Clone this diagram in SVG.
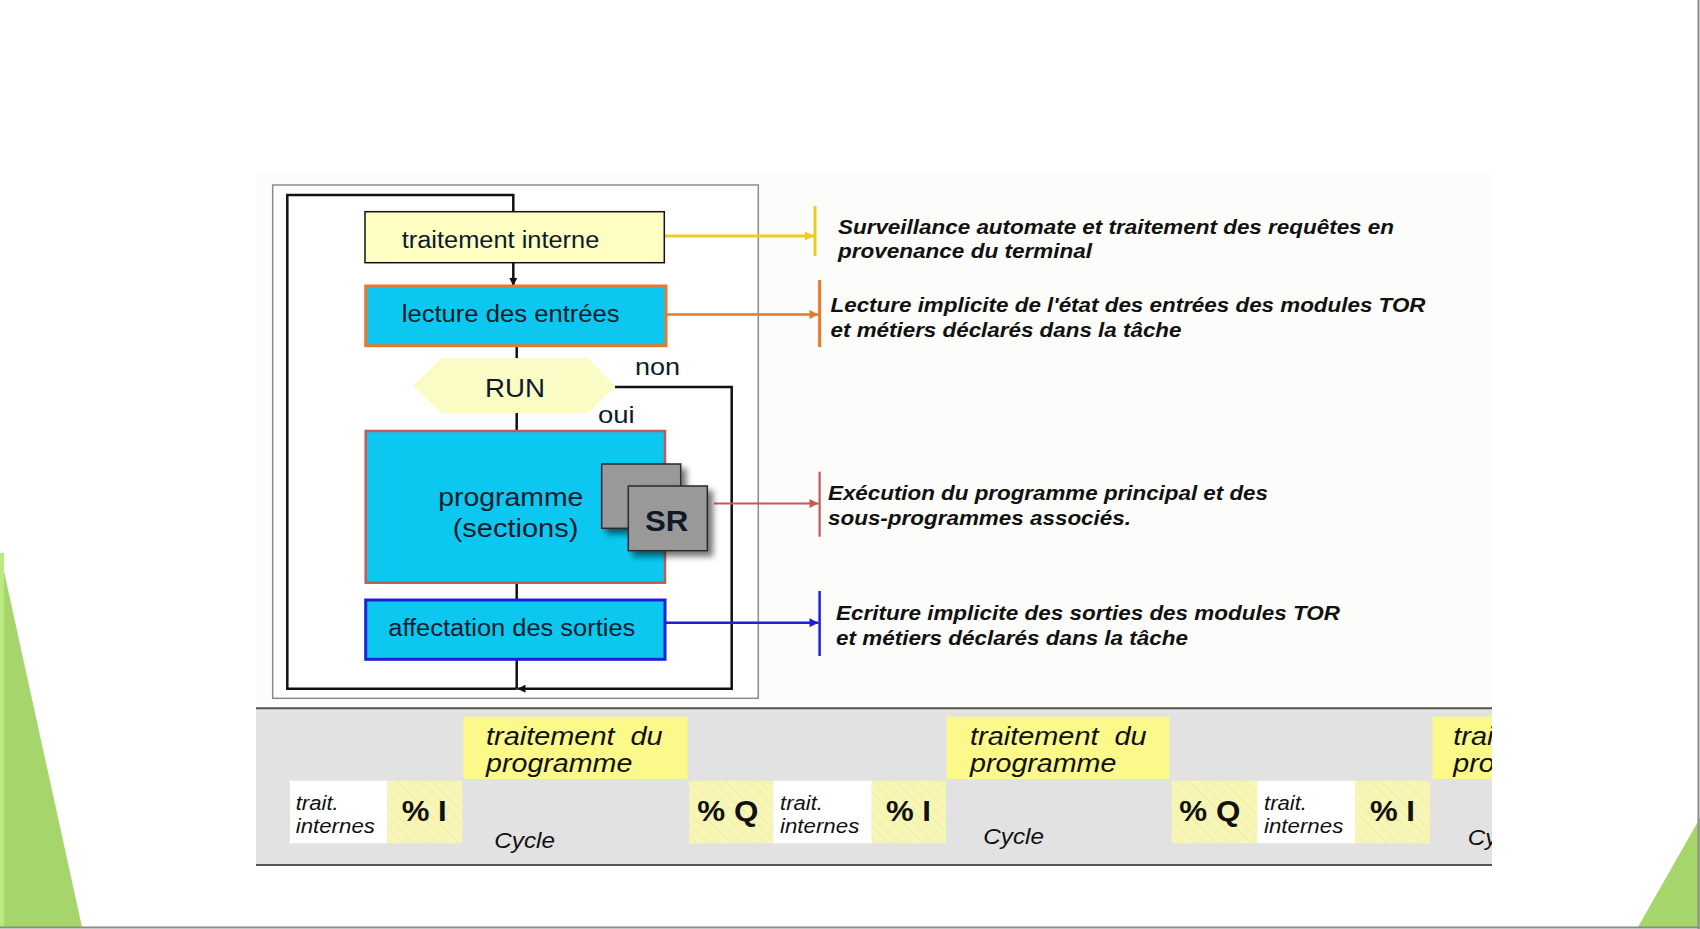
<svg xmlns="http://www.w3.org/2000/svg" width="1700" height="929" viewBox="0 0 1700 929">
<style>
.lbl{font-family:"Liberation Sans",Arial,sans-serif;fill:#0e1a2a;}
.note{font-family:"Liberation Sans",Arial,sans-serif;font-weight:bold;font-style:italic;font-size:21px;fill:#111;}
.it{font-family:"Liberation Sans",Arial,sans-serif;font-style:italic;fill:#111;}
.pct{font-family:"Liberation Sans",Arial,sans-serif;font-weight:bold;font-size:30px;fill:#111;}
.loop{fill:none;stroke:#111;stroke-width:2.5;}
.cyan{fill:#0cc8f0;}
</style>
<defs>
<marker id="mk" viewBox="0 0 10 10" refX="10" refY="5" markerWidth="9" markerHeight="8" markerUnits="userSpaceOnUse" orient="auto"><path d="M0,0 L10,5 L0,10 z" fill="#111"/></marker>
<marker id="my" viewBox="0 0 10 10" refX="10" refY="5" markerWidth="10" markerHeight="9" markerUnits="userSpaceOnUse" orient="auto"><path d="M0,0 L10,5 L0,10 z" fill="#eccd1c"/></marker>
<marker id="mo" viewBox="0 0 10 10" refX="10" refY="5" markerWidth="10" markerHeight="9" markerUnits="userSpaceOnUse" orient="auto"><path d="M0,0 L10,5 L0,10 z" fill="#e8782a"/></marker>
<marker id="mr" viewBox="0 0 10 10" refX="10" refY="5" markerWidth="10" markerHeight="9" markerUnits="userSpaceOnUse" orient="auto"><path d="M0,0 L10,5 L0,10 z" fill="#c45a55"/></marker>
<marker id="mb" viewBox="0 0 10 10" refX="10" refY="5" markerWidth="10" markerHeight="9" markerUnits="userSpaceOnUse" orient="auto"><path d="M0,0 L10,5 L0,10 z" fill="#1a22d8"/></marker>
<filter id="sh" x="-20%" y="-20%" width="150%" height="150%"><feDropShadow dx="5" dy="5" stdDeviation="3" flood-color="#000" flood-opacity="0.55"/></filter>
<pattern id="hatch" width="8" height="8" patternUnits="userSpaceOnUse" patternTransform="rotate(-45)"><rect width="8" height="8" fill="#f8f6b6"/><line x1="0" y1="0" x2="0" y2="8" stroke="#ecea9c" stroke-width="1.5"/></pattern>
<clipPath id="bandclip"><rect x="256" y="700" width="1236" height="170"/></clipPath>
</defs>

<!-- slide background -->
<rect x="0" y="0" width="1700" height="929" fill="#ffffff"/>
<rect x="256" y="173" width="1236" height="535" fill="#fcfcfa"/>
<polygon points="0,553 82,927 0,927" fill="#a5d56b"/>
<rect x="0" y="553" width="4" height="374" fill="#b8ea80"/>
<polygon points="1700,818 1638,927 1700,927" fill="#a5d56b"/>
<line x1="1698.5" y1="0" x2="1698.5" y2="929" stroke="#8c8c8c" stroke-width="2"/>
<line x1="0" y1="927.5" x2="1700" y2="927.5" stroke="#8c8c8c" stroke-width="2"/>

<!-- flowchart frame -->
<rect x="272.7" y="185" width="485.6" height="513.3" fill="#ffffff" stroke="#8a8a8a" stroke-width="1.5"/>

<!-- connectors -->
<g id="connectors">
<path class="loop" d="M516.7,688.7 H287.3 V195 H513.3 V211.7"/>
<path class="loop" d="M513.3,262.7 V286" stroke-width="1.8" marker-end="url(#mk)"/>
<path class="loop" d="M516.7,345.7 V358.3"/>
<path class="loop" d="M516.7,413 V431"/>
<path class="loop" d="M516.7,582.7 V600"/>
<path class="loop" d="M516.7,659.3 V688.7"/>
<path class="loop" d="M615,387 H731.7 V688.7 H517.5" marker-end="url(#mk)"/>
<line x1="664.5" y1="236" x2="814" y2="236" stroke="#eccd1c" stroke-width="2.8" marker-end="url(#my)"/>
<line x1="666" y1="314.4" x2="818.5" y2="314.4" stroke="#e8782a" stroke-width="2.5" marker-end="url(#mo)"/>
<line x1="714" y1="503.5" x2="818.5" y2="503.5" stroke="#c45a55" stroke-width="2" marker-end="url(#mr)"/>
<line x1="665" y1="622.7" x2="818.5" y2="622.7" stroke="#1a22d8" stroke-width="2.5" marker-end="url(#mb)"/>
<line x1="815" y1="206" x2="815" y2="256" stroke="#eccd1c" stroke-width="3"/>
<line x1="819.6" y1="280" x2="819.6" y2="347" stroke="#e8782a" stroke-width="3"/>
<line x1="819.6" y1="471.6" x2="819.6" y2="536.7" stroke="#c45a55" stroke-width="2.2"/>
<line x1="819.6" y1="591" x2="819.6" y2="656" stroke="#1a22d8" stroke-width="2.5"/>
</g>

<!-- nodes -->
<g id="traitement-interne">
<rect x="365" y="211.7" width="299.3" height="51" fill="#ffffc4" stroke="#111" stroke-width="1.5"/>
<text class="lbl" x="401.7" y="248.3" font-size="23" textLength="197.6" lengthAdjust="spacingAndGlyphs">traitement interne</text>
</g>

<g id="lecture-entrees">
<rect class="cyan" x="365.7" y="286" width="300.3" height="59.7" stroke="#e8782a" stroke-width="3"/>
<text class="lbl" x="401.7" y="321.7" font-size="23" textLength="218" lengthAdjust="spacingAndGlyphs">lecture des entrées</text>
</g>

<g id="run">
<polygon points="413,386 441,358.3 588,358.3 615,386 588,413 441,413" fill="#fbfbc6"/>
<text class="lbl" x="485" y="397" font-size="26" textLength="60" lengthAdjust="spacingAndGlyphs">RUN</text>
<text class="lbl" x="635" y="375" font-size="24" textLength="45" lengthAdjust="spacingAndGlyphs">non</text>
<text class="lbl" x="598" y="423" font-size="24" textLength="36.7" lengthAdjust="spacingAndGlyphs">oui</text>
</g>

<g id="programme">
<rect class="cyan" x="365.7" y="431" width="299.3" height="151.7" stroke="#c45a55" stroke-width="2.5"/>
<text class="lbl" x="438.3" y="506" font-size="26" textLength="145" lengthAdjust="spacingAndGlyphs">programme</text>
<text class="lbl" x="452.7" y="536.7" font-size="26" textLength="125.7" lengthAdjust="spacingAndGlyphs">(sections)</text>
</g>

<g id="sr">
<rect x="601.7" y="464" width="79" height="64.3" fill="#999999" stroke="#2a2a2a" stroke-width="1.5" filter="url(#sh)"/>
<rect x="628.3" y="486" width="79" height="64.7" fill="#999999" stroke="#2a2a2a" stroke-width="1.5" filter="url(#sh)"/>
<text class="lbl" x="645" y="531" font-size="30" font-weight="bold" fill="#111" textLength="43.3" lengthAdjust="spacingAndGlyphs">SR</text>
</g>

<g id="affectation-sorties">
<rect class="cyan" x="365.7" y="600" width="299.3" height="59.3" stroke="#1a22d8" stroke-width="3"/>
<text class="lbl" x="388.3" y="636" font-size="23" textLength="247" lengthAdjust="spacingAndGlyphs">affectation des sorties</text>
</g>

<!-- notes -->
<g id="note-surveillance">
<text class="note" x="838" y="234" textLength="556" lengthAdjust="spacingAndGlyphs">Surveillance automate et traitement des requêtes en</text>
<text class="note" x="838" y="258" textLength="254" lengthAdjust="spacingAndGlyphs">provenance du terminal</text>
</g>
<g id="note-lecture">
<text class="note" x="830.5" y="312" textLength="595" lengthAdjust="spacingAndGlyphs">Lecture implicite de l'état des entrées des modules TOR</text>
<text class="note" x="830.5" y="337" textLength="351" lengthAdjust="spacingAndGlyphs">et métiers déclarés dans la tâche</text>
</g>
<g id="note-execution">
<text class="note" x="828" y="500" textLength="440" lengthAdjust="spacingAndGlyphs">Exécution du programme principal et des</text>
<text class="note" x="828" y="524.7" textLength="303" lengthAdjust="spacingAndGlyphs">sous-programmes associés.</text>
</g>
<g id="note-ecriture">
<text class="note" x="836" y="620" textLength="504" lengthAdjust="spacingAndGlyphs">Ecriture implicite des sorties des modules TOR</text>
<text class="note" x="836" y="645" textLength="352" lengthAdjust="spacingAndGlyphs">et métiers déclarés dans la tâche</text>
</g>

<!-- timeline band -->
<g id="timeline">
<g clip-path="url(#bandclip)">
<rect x="256" y="708" width="1236" height="157" fill="#e2e2e2"/>
<rect x="463.3" y="716.7" width="224.4" height="62.3" fill="#fbf98a"/>
<rect x="946.7" y="716.7" width="222.6" height="62.3" fill="#fbf98a"/>
<rect x="1432.7" y="716.7" width="80" height="62.3" fill="#fbf98a"/>
<rect x="290" y="780.7" width="97.3" height="62.6" fill="#ffffff"/>
<rect x="387.3" y="780.7" width="75" height="62.6" fill="url(#hatch)"/>
<rect x="689.3" y="780.7" width="84" height="62.6" fill="url(#hatch)"/>
<rect x="773.3" y="780.7" width="98.4" height="62.6" fill="#ffffff"/>
<rect x="871.7" y="780.7" width="74.3" height="62.6" fill="url(#hatch)"/>
<rect x="1171.7" y="780.7" width="85.6" height="62.6" fill="url(#hatch)"/>
<rect x="1257.3" y="780.7" width="97.7" height="62.6" fill="#ffffff"/>
<rect x="1355" y="780.7" width="75" height="62.6" fill="url(#hatch)"/>

<text class="it" x="486" y="745" font-size="26" textLength="176.7" lengthAdjust="spacingAndGlyphs" xml:space="preserve">traitement  du</text>
<text class="it" x="486" y="772" font-size="26" textLength="146.4" lengthAdjust="spacingAndGlyphs">programme</text>
<text class="it" x="970" y="745" font-size="26" textLength="176.7" lengthAdjust="spacingAndGlyphs" xml:space="preserve">traitement  du</text>
<text class="it" x="970" y="772" font-size="26" textLength="146.4" lengthAdjust="spacingAndGlyphs">programme</text>
<text class="it" x="1453.3" y="745" font-size="26" textLength="176.7" lengthAdjust="spacingAndGlyphs" xml:space="preserve">traitement  du</text>
<text class="it" x="1453.3" y="772" font-size="26" textLength="146.4" lengthAdjust="spacingAndGlyphs">programme</text>

<text class="it" x="295.7" y="810" font-size="20.5" textLength="43" lengthAdjust="spacingAndGlyphs">trait.</text>
<text class="it" x="295.7" y="832.7" font-size="20.5" textLength="79.3" lengthAdjust="spacingAndGlyphs">internes</text>
<text class="it" x="780" y="810" font-size="20.5" textLength="43" lengthAdjust="spacingAndGlyphs">trait.</text>
<text class="it" x="780" y="832.7" font-size="20.5" textLength="79.3" lengthAdjust="spacingAndGlyphs">internes</text>
<text class="it" x="1264" y="810" font-size="20.5" textLength="43" lengthAdjust="spacingAndGlyphs">trait.</text>
<text class="it" x="1264" y="832.7" font-size="20.5" textLength="79.3" lengthAdjust="spacingAndGlyphs">internes</text>

<text class="pct" x="401.7" y="821" textLength="45" lengthAdjust="spacingAndGlyphs">% I</text>
<text class="pct" x="697.3" y="821" textLength="61" lengthAdjust="spacingAndGlyphs">% Q</text>
<text class="pct" x="886" y="821" textLength="45" lengthAdjust="spacingAndGlyphs">% I</text>
<text class="pct" x="1179.3" y="821" textLength="61" lengthAdjust="spacingAndGlyphs">% Q</text>
<text class="pct" x="1370" y="821" textLength="45" lengthAdjust="spacingAndGlyphs">% I</text>

<text class="it" x="494.3" y="848.3" font-size="22.5" textLength="60.7" lengthAdjust="spacingAndGlyphs">Cycle</text>
<text class="it" x="983.3" y="844" font-size="22.5" textLength="60.7" lengthAdjust="spacingAndGlyphs">Cycle</text>
<text class="it" x="1467.7" y="844.6" font-size="22.5" textLength="60.7" lengthAdjust="spacingAndGlyphs">Cycle</text>
</g>
<line x1="256" y1="708.3" x2="1492" y2="708.3" stroke="#555" stroke-width="2"/>
<line x1="256" y1="865" x2="1492" y2="865" stroke="#555" stroke-width="2"/>
</g>
</svg>
